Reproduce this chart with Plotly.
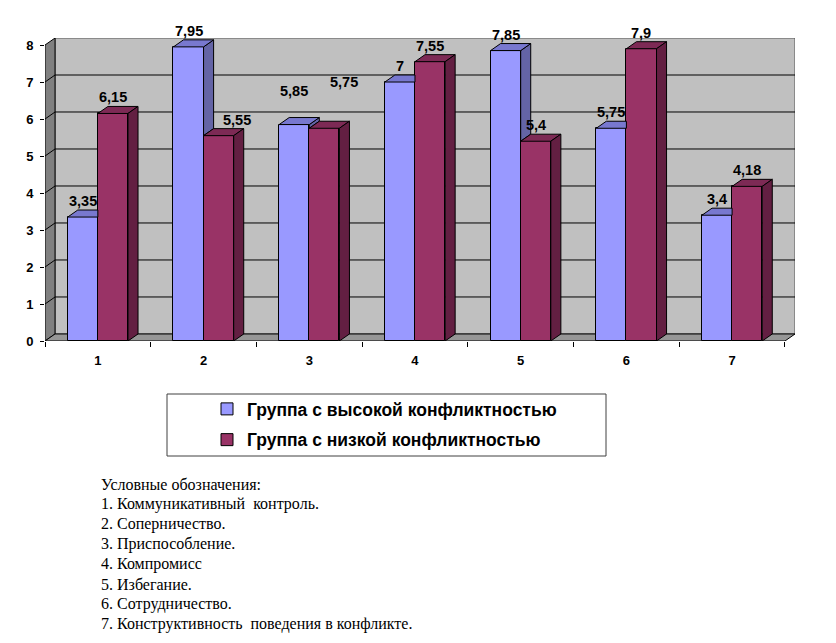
import numpy as np
import plotly.graph_objs as go

# data
categories = ['1', '2', '3', '4', '5', '6', '7']
high_conflict = [3.35, 7.95, 5.85, 7, 7.85, 5.75, 3.4]
low_conflict = [6.15, 5.55, 5.75, 7.55, 5.4, 7.9, 4.18]
y_ticks = [0, 1, 2, 3, 4, 5, 6, 7, 8]
series_names = ['Группа с высокой конфликтностью', 'Группа с низкой конфликтностью']
notes = ['Условные обозначения:',
         '1. Коммуникативный  контроль.',
         '2. Соперничество.',
         '3. Приспособление.',
         '4. Компромисс',
         '5. Избегание.',
         '6. Сотрудничество.',
         '7. Конструктивность  поведения в конфликте.']

# geometry of the fake 3d look (axis units)
w = 0.285    # width of one bar
dx = 0.095   # depth offset to the right
dy = 0.19    # depth offset upwards
x0, x1 = -0.5, len(categories) - 0.5
ymax = y_ticks[-1]

# page layout in pixels (the page body adds 8px on top/left)
OFF = 8
W, H = 836 - OFF, 643 - OFF
ML, MR, MT, MB = 45 - OFF, 41, 38 - OFF, 302
PW, PH = W - ML - MR, H - MT - MB
def paper_x(px): return (px - OFF - ML) / PW
def paper_y(py): return (H - MB - (py - OFF)) / PH

FONT = 'Liberation Sans'
blue, blue_top, blue_side = '#9999FF', '#7878CF', '#6464A6'
red, red_top, red_side = '#993366', '#7D2A55', '#631F42'

xc = np.arange(len(categories))

def polys(list_of_pts):
    xs, ys = [], []
    for pts in list_of_pts:
        for px, py in pts + [pts[0]]:
            xs.append(px); ys.append(py)
        xs.append(None); ys.append(None)
    return xs, ys

b_top, b_side, r_top, r_side = [], [], [], []
for c, vb, vr in zip(xc, high_conflict, low_conflict):
    if vr >= vb:
        # right part of the blue top is hidden behind the red bar
        b_top.append([(c - w, vb), (c, vb), (c, vb + dy), (c - w + dx, vb + dy)])
    else:
        b_top.append([(c - w, vb), (c, vb), (c + dx, vb + dy), (c - w + dx, vb + dy)])
        b_side.append([(c, vr), (c, vb), (c + dx, vb + dy), (c + dx, vr + dy)])
    r_top.append([(c, vr), (c + w, vr), (c + w + dx, vr + dy), (c + dx, vr + dy)])
    r_side.append([(c + w, 0), (c + w, vr), (c + w + dx, vr + dy), (c + w + dx, dy)])

fig = go.Figure()

# front faces
fig.add_trace(go.Bar(x=xc, y=high_conflict, width=w, offset=-w, name=series_names[0],
                     marker=dict(color=blue, line=dict(color='black', width=1)),
                     legendgroup='a', hoverinfo='y'))
fig.add_trace(go.Bar(x=xc, y=low_conflict, width=w, offset=0, name=series_names[1],
                     marker=dict(color=red, line=dict(color='black', width=1)),
                     legendgroup='b', hoverinfo='y'))

# tops and sides
for pts, col in [(b_side, blue_side), (b_top, blue_top), (r_top, red_top), (r_side, red_side)]:
    if not pts:
        continue
    px_, py_ = polys(pts)
    fig.add_trace(go.Scatter(x=px_, y=py_, mode='lines', fill='toself', fillcolor=col,
                             line=dict(color='black', width=1), showlegend=False,
                             hoverinfo='skip'))

# walls, floor and grid as shapes under the bars
shapes = []
def path(pts):
    return 'M' + 'L'.join(f'{a},{b}' for a, b in pts) + 'Z'
shapes.append(dict(type='path', xref='x', yref='y', layer='below',
                   path=path([(x0 + dx, dy), (x1 + dx, dy), (x1 + dx, ymax + dy), (x0 + dx, ymax + dy)]),
                   fillcolor='#C0C0C0', line=dict(color='#555555', width=1)))
shapes.append(dict(type='path', xref='x', yref='y', layer='below',
                   path=path([(x0, 0), (x0, ymax), (x0 + dx, ymax + dy), (x0 + dx, dy)]),
                   fillcolor='#808080', line=dict(color='black', width=1)))
shapes.append(dict(type='path', xref='x', yref='y', layer='below',
                   path=path([(x0, 0), (x1, 0), (x1 + dx, dy), (x0 + dx, dy)]),
                   fillcolor='#969696', line=dict(color='black', width=1)))
for k in y_ticks[1:-1]:
    shapes.append(dict(type='line', xref='x', yref='y', layer='below',
                       x0=x0 + dx, x1=x1 + dx, y0=k + dy, y1=k + dy,
                       line=dict(color='black', width=1)))
    shapes.append(dict(type='line', xref='x', yref='y', layer='below',
                       x0=x0, x1=x0 + dx, y0=k, y1=k + dy,
                       line=dict(color='black', width=1)))
# legend frame
shapes.append(dict(type='rect', xref='paper', yref='paper',
                   x0=paper_x(167), x1=paper_x(606), y0=paper_y(394), y1=paper_y(456),
                   line=dict(color='#404040', width=1)))

# value labels, a few of them are moved like in the original
shift = {(1, 1): (18, 0), (2, 0): (0, 18), (2, 1): (20, 30)}
annotations = []
for s, vals in enumerate([high_conflict, low_conflict]):
    for i, v in enumerate(vals):
        xs, ys = shift.get((i, s), (0, 0))
        annotations.append(dict(x=xc[i] + (w / 2 if s else -w / 2), y=v, xref='x', yref='y',
                                text=f'{v:g}'.replace('.', ','), showarrow=False,
                                yanchor='bottom', yshift=6 + ys, xshift=xs,
                                font=dict(family=FONT, size=14.5, color='black', weight='bold')))

for j, line in enumerate(notes):
    annotations.append(dict(x=paper_x(99), y=paper_y(484 + 20 * j), xref='paper', yref='paper',
                            text=line, showarrow=False, xanchor='left', yanchor='middle',
                            font=dict(family='Liberation Serif', size=16, color='black')))

fig.update_layout(
    template='none',
    width=W, height=H,
    margin=dict(l=ML, r=MR, t=MT, b=MB, pad=0, autoexpand=False),
    paper_bgcolor='white', plot_bgcolor='rgba(0,0,0,0)',
    barmode='overlay', bargap=0,
    shapes=shapes, annotations=annotations,
    legend=dict(x=paper_x(207), y=paper_y(391),
                xanchor='left', yanchor='top', bgcolor='rgba(0,0,0,0)',
                traceorder='grouped', tracegroupgap=5,
                font=dict(family=FONT, size=17.5, color='black', weight='bold')),
    xaxis=dict(range=[x0, x1 + dx], tickvals=list(xc), ticktext=categories,
               ticks='', showgrid=False, zeroline=False, showline=False, automargin=False,
               ticklabelstandoff=10,
               tickfont=dict(family=FONT, size=13, color='black', weight='bold'),
               minor=dict(tickvals=list(np.arange(len(categories) + 1) - 0.5), ticks='outside',
                          ticklen=5, tickcolor='black', showgrid=False)),
    yaxis=dict(range=[0, ymax + dy], tickvals=y_ticks, ticks='outside', ticklen=4,
               tickcolor='black', showgrid=False, zeroline=False, showline=False,
               automargin=False, ticklabelstandoff=4,
               tickfont=dict(family=FONT, size=13, color='black', weight='bold')),
)

fig.write_html('out.html')
